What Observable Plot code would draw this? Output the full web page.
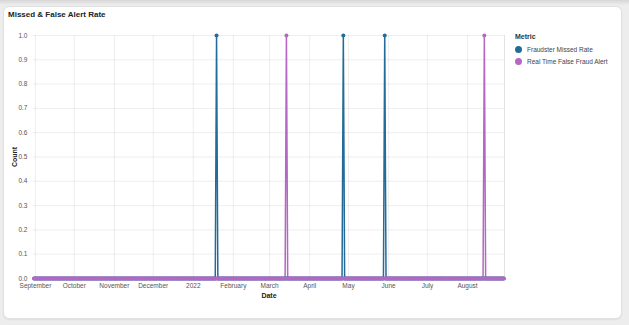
<!DOCTYPE html>
<html><head><meta charset="utf-8">
<script src="https://cdn.jsdelivr.net/npm/d3@7"></script>
<script src="https://cdn.jsdelivr.net/npm/@observablehq/plot@0.6"></script>
<style>
body{margin:0;width:629px;height:325px;background:#ededed;font-family:"Liberation Sans",Arial,sans-serif;overflow:hidden;position:relative}
#topbar{position:absolute;left:0;top:0;width:629px;height:5px;background:linear-gradient(#d6d6d6,#ededed)}
#card{position:absolute;left:3px;top:6px;width:617px;height:311px;background:#fff;border:1px solid #e0e0e0;border-radius:6px;box-shadow:0 1px 2px rgba(0,0,0,0.06)}
#title{position:absolute;left:8px;top:10px;font-size:8px;font-weight:bold;color:#222}
#chart{position:absolute;left:0;top:0}
#legend{position:absolute;left:515px;top:33px;font-size:6.5px;color:#444}
#legend .hd{font-weight:bold;font-size:7px;color:#333;margin-bottom:3px}
#legend .it{display:flex;align-items:center;height:12px}
#legend .sw{width:7px;height:7px;border-radius:50%;margin-right:5px}
#ylab{position:absolute;left:8px;top:157px;transform:translate(-50%,-50%) rotate(-90deg);font-size:7px;font-weight:bold;color:#222;transform-origin:center;margin-left:6px}
#xlab{position:absolute;left:269px;top:292px;transform:translateX(-50%);font-size:7px;font-weight:bold;color:#222}
</style></head>
<body>
<div id="topbar"></div>
<div id="card"></div>
<div id="title">Missed &amp; False Alert Rate</div>
<div id="chart"></div>
<div id="ylab">Count</div>
<div id="xlab">Date</div>
<div id="legend"></div>
<script>
const seriesNames = ["Fraudster Missed Rate", "Real Time False Fraud Alert"];
const seriesColors = ["#236b98", "#b467c3"];
const startDate = "2021-08-31";
const endDate = "2022-08-29";
const missedSpikes = ["2022-01-19", "2022-04-27", "2022-05-29"];
const falseSpikes = ["2022-03-14", "2022-08-14"];
const spikeValue = 1;
const baseValue = 0;
const monthTicks = ["2021-09-01","2021-10-01","2021-11-01","2021-12-01","2022-01-01","2022-02-01","2022-03-01","2022-04-01","2022-05-01","2022-06-01","2022-07-01","2022-08-01"];
const monthLabels = ["September","October","November","December","2022","February","March","April","May","June","July","August"];
const yTicks = [0,0.1,0.2,0.3,0.4,0.5,0.6,0.7,0.8,0.9,1.0];
const xDomain = ["2021-08-30T12:00Z", "2022-08-29T14:00Z"];

const fmt = d3.utcFormat("%Y-%m-%d");
const days = d3.utcDay.range(new Date(startDate + "T00:00Z"), d3.utcDay.offset(new Date(endDate + "T00:00Z"), 1));
const spikeSets = [new Set(missedSpikes), new Set(falseSpikes)];
const rows = [];
seriesNames.forEach((s, i) => {
  days.forEach(d => rows.push({date: d, series: s, value: spikeSets[i].has(fmt(d)) ? spikeValue : baseValue}));
});
const tickDates = monthTicks.map(t => new Date(t + "T00:00Z"));
const labelMap = new Map(tickDates.map((d, i) => [+d, monthLabels[i]]));

const chart = Plot.plot({
  width: 629, height: 325,
  marginLeft: 33, marginRight: 125, marginTop: 35, marginBottom: 47,
  style: {fontSize: "6.5px", fontFamily: "'Liberation Sans', Arial, sans-serif", color: "#555", background: "transparent"},
  x: {type: "utc", domain: xDomain.map(d => new Date(d)), ticks: tickDates, tickFormat: d => labelMap.get(+d), tickSize: 0, tickPadding: 5, grid: true, label: null},
  y: {domain: [0, 1], ticks: yTicks, tickFormat: d3.format(".1f"), tickSize: 0, tickPadding: 6, grid: true, label: null},
  color: {domain: seriesNames, range: seriesColors},
  marks: [
    Plot.ruleX([new Date(xDomain[1])], {stroke: "#e3e3e3"}),
    Plot.line(rows, {x: "date", y: "value", stroke: "series", z: "series", strokeWidth: 1.5}),
    Plot.dot(rows, {x: "date", y: "value", fill: "series", r: 2})
  ]
});
document.getElementById("chart").appendChild(chart);

const lg = document.getElementById("legend");
lg.innerHTML = '<div class="hd">Metric</div>' + seriesNames.map((s, i) =>
  `<div class="it"><div class="sw" style="background:${seriesColors[i]}"></div>${s}</div>`).join("");
</script>
</body></html>
